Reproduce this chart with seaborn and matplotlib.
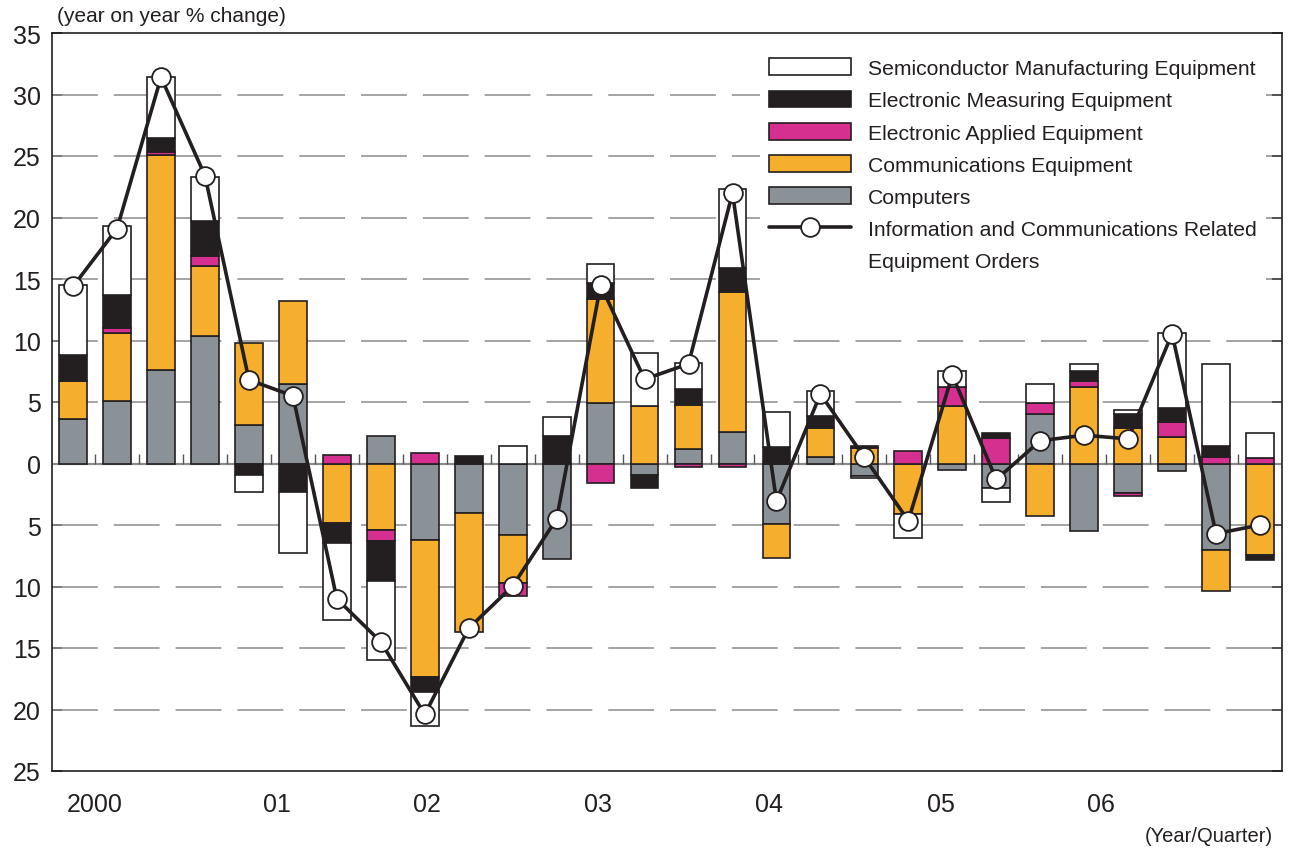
import numpy as np
import matplotlib
matplotlib.use("Agg")
import matplotlib.pyplot as plt
import seaborn as sns
from matplotlib.patches import Patch
from matplotlib.lines import Line2D

# quarters 2000Q1 .. 2006Q4
quarters = [f"{y}Q{q}" for y in range(2000, 2007) for q in range(1, 5)]

# contributions (percentage points)
computers = [3.6, 5.1, 7.6, 10.4, 3.1, 6.5, 0.0, 2.2, -6.2, -4.0, -5.8, -7.75, 4.9, -0.9,
             1.2, 2.55, -4.9, 0.55, -1.0, 0.0, -0.55, -2.0, 4.0, -5.45, -2.4, -0.6, -7.05, 0.0]
communications = [3.1, 5.55, 17.45, 5.65, 6.7, 6.7, -4.85, -5.4, -11.15, -9.7, -3.95, 0.0, 8.45, 4.7,
                  3.55, 11.4, -2.8, 2.35, 1.25, -4.1, 4.7, 0.0, -4.3, 6.2, 2.85, 2.15, -3.3, -7.45]
applied = [0.0, 0.35, 0.3, 0.8, 0.0, 0.0, 0.7, -0.9, 0.85, 0.0, -1.0, 0.0, -1.6, 0.0,
           -0.25, -0.25, 0.0, 0.0, 0.0, 1.05, 1.55, 2.1, 0.95, 0.5, -0.25, 1.25, 0.5, 0.45]
measuring = [2.1, 2.7, 1.15, 2.85, -0.9, -2.3, -1.6, -3.25, -1.25, 0.6, 0.0, 2.25, 1.3, -1.1,
             1.3, 1.95, 1.35, 1.0, 0.2, 0.0, 0.0, 0.35, 0.0, 0.8, 1.2, 1.1, 0.9, -0.4]
semiconductor = [5.7, 5.6, 4.95, 3.6, -1.4, -5.0, -6.25, -6.45, -2.75, 0.0, 1.45, 1.5, 1.6, 4.3,
                 2.15, 6.45, 2.8, 2.0, -0.2, -1.95, 1.25, -1.1, 1.5, 0.6, 0.3, 6.1, 6.65, 2.05]
# information and communications related equipment orders (y/y %)
total_orders = [14.4, 19.1, 31.4, 23.4, 6.8, 5.5, -11.0, -14.5, -20.4, -13.4, -9.95, -4.5, 14.5, 6.85,
                8.1, 22.0, -3.05, 5.65, 0.5, -4.65, 7.2, -1.3, 1.85, 2.3, 2.0, 10.55, -5.7, -5.0]

year_labels = ["2000", "01", "02", "03", "04", "05", "06"]
year_label_pos = [0.48, 4.64, 8.05, 11.94, 15.83, 19.75, 23.38]

ink = "#231f20"
grid_col = "#8c8c8c"

sns.set_theme(style="white")
plt.rcParams["font.family"] = ["Liberation Sans", "DejaVu Sans"]
plt.rcParams["lines.scale_dashes"] = False
plt.rcParams["text.color"] = ink

fig = plt.figure(figsize=(12.9, 8.54), dpi=100)
fig.subplots_adjust(left=52 / 1290, right=1282 / 1290, top=1 - 34 / 854, bottom=1 - 772 / 854)
ax = fig.add_subplot(111)

x = np.arange(len(quarters))

# stacked bars: positives go up, negatives go down, same order from zero
stack = [
    ("Computers", computers, "#8a9197"),
    ("Communications Equipment", communications, "#f6ae2d"),
    ("Electronic Applied Equipment", applied, "#d52f8f"),
    ("Electronic Measuring Equipment", measuring, ink),
    ("Semiconductor Manufacturing Equipment", semiconductor, "#ffffff"),
]
pos_base = np.zeros(len(x))
neg_base = np.zeros(len(x))
for name, vals, col in stack:
    v = np.array(vals)
    bottom = np.where(v >= 0, pos_base, neg_base)
    m = v != 0
    ax.bar(x[m], v[m], bottom=bottom[m], width=0.63, color=col,
           edgecolor=ink, linewidth=1.2, zorder=3)
    pos_base += np.clip(v, 0, None)
    neg_base += np.clip(v, None, 0)

sns.lineplot(x=x, y=total_orders, ax=ax, color=ink, lw=2.6, marker="o", markersize=13.5,
             markerfacecolor="white", markeredgecolor=ink, markeredgewidth=1.3,
             zorder=5, legend=False)

# grid lines and zero line
for yv in [-20, -15, -10, -5, 5, 10, 15, 20, 25, 30]:
    ax.axhline(yv, color=grid_col, lw=1.1, dashes=(33, 11.5), zorder=1)
ax.axhline(0, color=grid_col, lw=1.6, zorder=2)
ax.vlines(x[:-1] + 0.5, 0, 0.75, color="#555555", lw=1.0, zorder=2)

ax.set_xlim(-0.48, 27.5)
ax.set_ylim(-25, 35)
yt = list(range(-25, 36, 5))
ax.set_yticks(yt, [str(abs(v)) for v in yt])
ax.set_xticks(year_label_pos, year_labels)
ax.tick_params(axis="y", direction="in", length=7, width=1.1, color=ink,
               labelsize=18, labelcolor=ink, pad=8, right=True, left=True)
ax.tick_params(axis="x", length=0, labelsize=18, labelcolor=ink, pad=15)
for s in ax.spines.values():
    s.set_color(ink)
    s.set_linewidth(1.2)
ax.set_xlabel("")
ax.set_ylabel("")

fig.text(57 / 1290, 1 - 16 / 854, "(year on year % change)", fontsize=15, color=ink,
         ha="left", va="center")
fig.text(1273 / 1290, 1 - 837 / 854, "(Year/Quarter)", fontsize=14.5, color=ink,
         ha="right", va="center")

handles = [Patch(facecolor=c, edgecolor=ink, linewidth=1.2, label=n) for n, _, c in stack[::-1]]
handles.append(Line2D([], [], color=ink, lw=2.6, marker="o", markersize=13.5,
                      markerfacecolor="white", markeredgecolor=ink, markeredgewidth=1.3,
                      label="Information and Communications Related"))
handles.append(Line2D([], [], alpha=0, label="Equipment Orders"))
leg = ax.legend(handles=handles, loc="upper left", bbox_to_anchor=(0.5756, 0.978),
                frameon=True, facecolor="white", edgecolor="none", framealpha=1,
                fancybox=False, fontsize=15.2, handlelength=3.88, handleheight=0.855,
                handletextpad=0.8, labelspacing=0.59, borderaxespad=0, borderpad=0.43)
leg.set_zorder(6)
for t in leg.get_texts():
    t.set_color(ink)

fig.savefig("out.png", dpi=100)
